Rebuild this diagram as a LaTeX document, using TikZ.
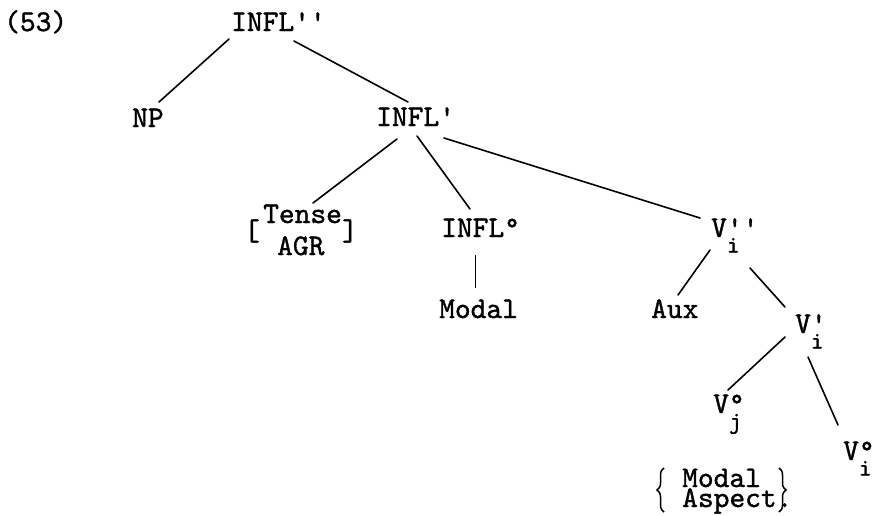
\documentclass[tikz,border=0pt]{standalone}
\usepackage{fontspec}
\setmonofont{lmmono10-regular.otf}[FakeBold=1.2]
\usetikzlibrary{decorations.pathreplacing}
\newcommand\lowsub[1]{\raisebox{-15.5pt}{\fontsize{24}{24}\selectfont #1}}
\newcommand\prm{\textquotesingle}
\begin{document}
\begin{tikzpicture}[x=1pt,y=-1pt,
  lab/.style={anchor=base west,inner sep=0pt,font=\ttfamily\fontsize{30}{30}\selectfont},
  brk/.style={inner sep=0pt,font=\ttfamily\fontsize{30}{30}\selectfont},
  edge/.style={line width=1.6pt,line cap=round},
  thinedge/.style={line width=0.9pt},
  curly/.style={line width=1.5pt,decorate,decoration={brace,amplitude=7pt,aspect=0.5}}]
\useasboundingbox (0,0) rectangle (876,515);

% labels
\node[lab] (num)    at (4,31)    {(53)};
\node[lab] (infl2)  at (231,31)  {INFL\prm\prm};
\node[lab] (np)     at (132,127) {NP};
\node[lab] (infl1)  at (376,126) {INFL\prm};
\node[lab] (tense)  at (263,223) {Tense};
\node[lab] (agr)    at (277,255) {AGR};
\node[brk] (lbrk)   at (252,231) {[};
\node[brk] (rbrk)   at (350,231) {]};
\node[lab] (infl0)  at (441,237) {INFL°};
\node[lab] (modal)  at (439,318) {Modal};
\node[lab] (v2)     at (711,237) {V\rlap{\prm\prm}\lowsub{i}};
\node[lab] (aux)    at (651,318) {Aux};
\node[lab] (v1)     at (795,333) {V\rlap{\prm}\lowsub{i}};
\node[lab] (vj)     at (713,413) {V\rlap{°}\lowsub{j}};
\node[lab] (vi)     at (843,460) {V\rlap{°}\lowsub{i}};
\node[lab] (modalb) at (682,487) {Modal};
\node[lab] (aspect) at (682,507) {Aspect.};

% curly braces round Modal / Aspect.
\draw[curly] ([shift={(-18,5)}]aspect.base west) -- ([shift={(-18,-19)}]modalb.base west);
\draw[curly] ([shift={(97,-19)}]modalb.base west) -- ([shift={(97,5)}]aspect.base west);

% branches
\draw[edge] ([shift={(-2,8)}]infl2.base west)  -- ([shift={(27,-25)}]np.base west);
\draw[edge] ([shift={(63,10)}]infl2.base west) -- ([shift={(32,-24)}]infl1.base west);
\draw[edge] ([shift={(21,13)}]infl1.base west) -- ([shift={(50,-20)}]tense.base west);
\draw[edge] ([shift={(41,10)}]infl1.base west) -- ([shift={(29,-28)}]infl0.base west);
\draw[edge] ([shift={(68,12)}]infl1.base west) -- ([shift={(-11,-19)}]v2.base west);
\draw[thinedge] ([shift={(34,18)}]infl0.base west) -- ([shift={(36,-30)}]modal.base west);
\draw[edge] ([shift={(-1,13)}]v2.base west)  -- ([shift={(27,-23)}]aux.base west);
\draw[edge] ([shift={(39,31)}]v2.base west)  -- ([shift={(-10,-26)}]v1.base west);
\draw[edge] ([shift={(-10,4)}]v1.base west)  -- ([shift={(15,-23)}]vj.base west);
\draw[edge] ([shift={(13,24)}]v1.base west)  -- ([shift={(-5,-35)}]vi.base west);
\end{tikzpicture}
\end{document}
